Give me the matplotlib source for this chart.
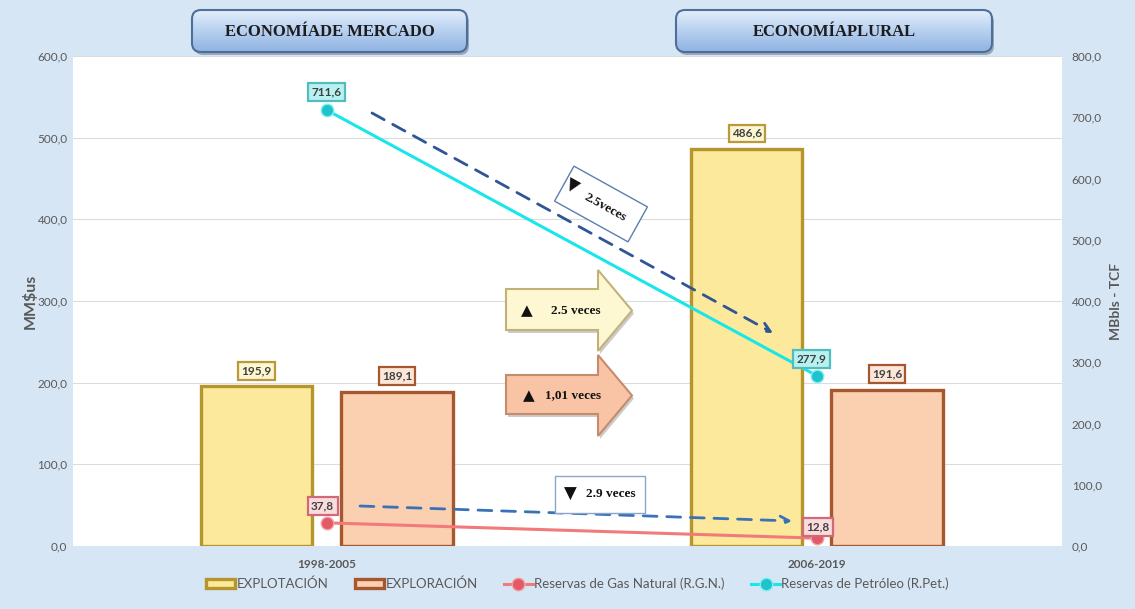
import numpy as np
import matplotlib
matplotlib.use("Agg")
import matplotlib.pyplot as plt
from matplotlib.patches import FancyBboxPatch, Polygon, Rectangle
from matplotlib.ticker import FuncFormatter, MultipleLocator
from matplotlib.colors import LinearSegmentedColormap
import matplotlib.transforms as mtransforms

# ---------------- data ----------------
periods = ["1998-2005", "2006-2019"]
explotacion = [195.9, 486.6]
exploracion = [189.1, 191.6]
gas_reservas = [37.8, 12.8]
petroleo_reservas = [711.6, 277.9]
legend_labels = ["EXPLOTACIÓN", "EXPLORACIÓN",
                 "Reservas de Gas Natural (R.G.N.)", "Reservas de Petróleo (R.Pet.)"]
headers = ["ECONOMÍADE MERCADO", "ECONOMÍAPLURAL"]
left_label = "MM$us"
right_label = "MBbls - TCF"
change_texts = ["2.5 veces", "1,01 veces", "2.5veces", "2.9 veces"]
up_sign, down_sign = "▲", "▼"

# ---------------- style ----------------
SANS = ["Lato", "DejaVu Sans"]
SERIF = ["Liberation Serif", "DejaVu Sans"]
BG = "#d7e6f5"
C_EXPLOT = "#fde99c"
E_EXPLOT = "#b5952c"
C_EXPLOR = "#fbd0b0"
E_EXPLOR = "#a5582f"
C_GAS = "#f27a7a"
M_GAS = "#e25a66"
C_PET = "#19e6ea"
M_PET = "#1fc3cc"
TXT = "#595959"

def fmt(v, _=None):
    return f"{v:.1f}".replace(".", ",")

W, H = 1135, 609
fig = plt.figure(figsize=(W / 100, H / 100), dpi=100)
fig.patch.set_facecolor(BG)

L, R, T, B = 73, 1062, 56, 546
ax = fig.add_axes([L / W, (H - B) / H, (R - L) / W, (B - T) / H])
ax.set_facecolor("white")
for s in ax.spines.values():
    s.set_visible(False)

x = np.arange(len(periods))
bw = 0.227
off = 0.143
ax.bar(x - off, explotacion, bw, color=C_EXPLOT, edgecolor=E_EXPLOT, linewidth=2.4, zorder=3,
       label=legend_labels[0])
ax.bar(x + off, exploracion, bw, color=C_EXPLOR, edgecolor=E_EXPLOR, linewidth=2.4, zorder=3,
       label=legend_labels[1])
ax.set_xlim(-0.518, 1.5)
ax.set_ylim(0, 600)
ax.yaxis.set_major_locator(MultipleLocator(100))
ax.yaxis.set_major_formatter(FuncFormatter(fmt))
ax.grid(axis="y", color="#dcdcdc", linewidth=0.8, zorder=0)
ax.set_axisbelow(True)
ax.set_xticks(x)
ax.set_xticklabels(periods)
ax.tick_params(axis="both", length=0, labelsize=8.5, labelcolor=TXT)
ax.tick_params(axis="y", pad=4)
ax.tick_params(axis="x", pad=9)
for lab in ax.get_xticklabels() + ax.get_yticklabels():
    lab.set_family(SANS)
for lab in ax.get_xticklabels():
    lab.set_fontweight("bold")
ax.set_ylabel(left_label, family=SANS, fontsize=11.5, fontweight="bold", color=TXT, labelpad=0)

ax2 = ax.twinx()
for s in ax2.spines.values():
    s.set_visible(False)
ax2.set_ylim(0, 800)
ax2.yaxis.set_major_locator(MultipleLocator(100))
ax2.yaxis.set_major_formatter(FuncFormatter(fmt))
ax2.tick_params(axis="y", length=0, labelsize=8.5, labelcolor=TXT, pad=7)
for lab in ax2.get_yticklabels():
    lab.set_family(SANS)
ax2.set_ylabel(right_label, family=SANS, fontsize=10, fontweight="bold", color=TXT, labelpad=6)

ax2.plot(x, gas_reservas, color=C_GAS, linewidth=2.2, marker="o", markersize=9,
         markerfacecolor=M_GAS, markeredgecolor="#f5a0a5", markeredgewidth=1, zorder=4,
         label=legend_labels[2])
ax2.plot(x, petroleo_reservas, color=C_PET, linewidth=2.2, marker="o", markersize=9,
         markerfacecolor=M_PET, markeredgecolor="#80eef0", markeredgewidth=1, zorder=4,
         label=legend_labels[3])

def label(axis, xv, yv, dx, dy, fc, ec):
    axis.annotate(fmt(yv), (xv, yv), xytext=(dx, dy), textcoords="offset points",
                  ha="center", va="center", fontsize=8.5, fontweight="bold", color="#404040",
                  family=SANS, zorder=6,
                  bbox=dict(boxstyle="square,pad=0.28", fc=fc, ec=ec, lw=1.6))

for i in range(len(periods)):
    label(ax, x[i] - off, explotacion[i], 0, 11, "#fdf6d2", "#b89a3a")
    label(ax, x[i] + off, exploracion[i], 0, 11, "#fbe6d8", "#a5582f")
label(ax2, x[0], gas_reservas[0], -3, 12, "#fbdcdc", "#d06a78")
label(ax2, x[1], gas_reservas[1], 1, 8, "#fbdcdc", "#d06a78")
label(ax2, x[0], petroleo_reservas[0], 0, 13, "#b9f1f1", "#55bcbc")
label(ax2, x[1], petroleo_reservas[1], -4, 12, "#b9f1f1", "#55bcbc")

# legend
handles = ax.get_legend_handles_labels()[0] + ax2.get_legend_handles_labels()[0]
leg = fig.legend(handles, legend_labels, loc="center", bbox_to_anchor=(0.509, 1 - 584 / H),
                 ncol=4, frameon=False, handlelength=2.2, handletextpad=0.1,
                 columnspacing=2.0, prop={"family": SANS, "size": 9.5})
for t in leg.get_texts():
    t.set_color(TXT)

# ---------------- overlay decorations (pixel coordinates) ----------------
ov = fig.add_axes([0, 0, 1, 1], zorder=10)
ov.axis("off")
ov.patch.set_alpha(0)

grad = np.linspace(0, 1, 64).reshape(-1, 1)
hcmap = LinearSegmentedColormap.from_list("h", ["#e3eefb", "#b7d0f0", "#8fb3e2"])

def header(x0, x1, y0, y1, text):
    sh = FancyBboxPatch((x0 + 2, y0 + 3), x1 - x0, y1 - y0,
                        boxstyle="round,pad=0,rounding_size=9", fc="#6f7f95", ec="none",
                        alpha=0.6, zorder=1)
    ov.add_patch(sh)
    p = FancyBboxPatch((x0, y0), x1 - x0, y1 - y0, boxstyle="round,pad=0,rounding_size=9",
                       fc="none", ec="#4f6f98", lw=1.5, zorder=3)
    ov.add_patch(p)
    im = ov.imshow(grad, cmap=hcmap, extent=[x0, x1, y1, y0], aspect="auto", zorder=2)
    im.set_clip_path(p)
    ov.text((x0 + x1) / 2, (y0 + y1) / 2 + 1, text, ha="center", va="center",
            family=SERIF, fontweight="bold", fontsize=12, color="#1c1c1c", zorder=4)

header(192, 467, 10, 52, headers[0])
header(676, 992, 10, 52, headers[1])
ov.set_xlim(0, W)
ov.set_ylim(H, 0)

def tri(xp, yp, sign, rot=0, size=12):
    ov.text(xp, yp, sign, ha="center", va="center", family=["DejaVu Sans"], fontsize=size,
            color="#111111", rotation=rot, rotation_mode="anchor", zorder=7)

def block_arrow(y0, y1, hy0, hy1, fc, ec, text, tri_x, tx):
    xs, xh, xt = 506, 598, 632
    ym = (hy0 + hy1) / 2
    pts = [(xs, y0), (xh, y0), (xh, hy0), (xt, ym), (xh, hy1), (xh, y1), (xs, y1)]
    sh = Polygon([(px + 2, py + 3) for px, py in pts], closed=True, fc="#999999", ec="none",
                 alpha=0.5, zorder=1)
    ov.add_patch(sh)
    ov.add_patch(Polygon(pts, closed=True, fc=fc, ec=ec, lw=1.5, zorder=2))
    tri(tri_x, ym, up_sign, size=11)
    ov.text(tx, ym, text, ha="center", va="center", family=SERIF, fontweight="bold",
            fontsize=9.5, color="#111111", zorder=3)

block_arrow(289, 330, 270, 351, "#fdf8d2", "#c2b27a", change_texts[0], 527, 576)
block_arrow(375, 414, 355, 436, "#f9c4a6", "#c58c6c", change_texts[1], 529, 573)

# dashed trend arrows
ov.annotate("", xy=(773, 333), xytext=(372, 113),
            arrowprops=dict(arrowstyle="->", color="#2f5597", lw=2, linestyle=(0, (5, 3.5)),
                            mutation_scale=16, shrinkA=0, shrinkB=0), zorder=5)
ov.annotate("", xy=(792, 521), xytext=(360, 506),
            arrowprops=dict(arrowstyle="->", color="#3a72b8", lw=2, linestyle=(0, (5, 3.5)),
                            mutation_scale=16, shrinkA=0, shrinkB=0), zorder=5)

# rotated note box
cx, cy, ang = 601, 204, 29
rect = Rectangle((cx - 42, cy - 20), 84, 40, fc="white", ec="#5b7fb0", lw=1, zorder=6)
rect.set_transform(mtransforms.Affine2D().rotate_deg_around(cx, cy, ang) + ov.transData)
ov.add_patch(rect)
tri(572, 186, down_sign, rot=-ang, size=12)
ov.text(605, 208, change_texts[2], rotation=-ang, rotation_mode="anchor", ha="center",
        va="center", family=SERIF, fontweight="bold", fontsize=9.5, color="#111111", zorder=7)

# flat note box
ov.add_patch(Rectangle((555, 476), 90, 37, fc="white", ec="#8aa6cc", lw=1, zorder=6))
tri(570, 494, down_sign, size=12)
ov.text(611, 494, change_texts[3], ha="center", va="center", family=SERIF,
        fontweight="bold", fontsize=9.5, color="#111111", zorder=7)

fig.savefig("out.png", dpi=100, facecolor=fig.get_facecolor())
